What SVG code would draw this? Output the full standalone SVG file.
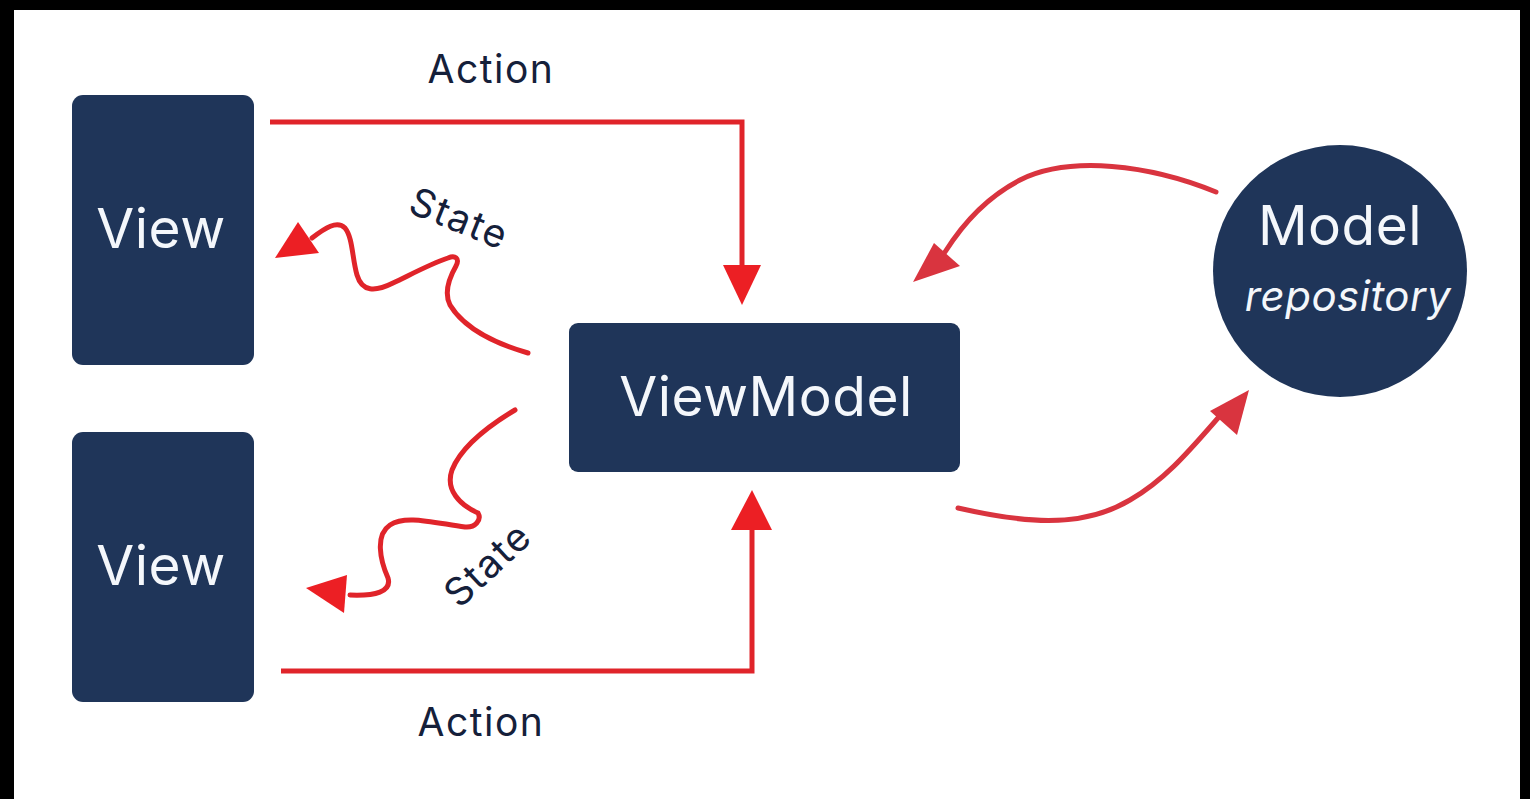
<svg xmlns="http://www.w3.org/2000/svg" width="1530" height="799" viewBox="0 0 1530 799">
<style>
.box{fill:#1f3559;}
.nt{fill:#f4f7fb;font-family:Inter,"Liberation Sans",sans-serif;font-size:55px;text-anchor:middle;letter-spacing:0.5px;}
.lbl{fill:#15203a;font-family:Inter,"Liberation Sans",sans-serif;font-size:39px;text-anchor:middle;letter-spacing:1.5px;}
.wire{fill:none;stroke:#e0242a;stroke-width:5;stroke-linejoin:miter;}
.arc{fill:none;stroke:#d9343f;stroke-width:5;stroke-linecap:round;}
.head{fill:#ec1f24;}
.ahead{fill:#d9343f;}
</style>
<rect x="0" y="0" width="1530" height="799" fill="#ffffff"/>
<g id="frame">
<rect x="0" y="0" width="1530" height="10" fill="#000"/>
<rect x="0" y="0" width="14" height="799" fill="#000"/>
<rect x="1520" y="0" width="10" height="799" fill="#000"/>
</g>
<g id="view1">
<rect class="box" x="72" y="95" width="182" height="270" rx="11"/>
<text class="nt" x="161" y="248">View</text>
</g>
<g id="view2">
<rect class="box" x="72" y="432" width="182" height="270" rx="11"/>
<text class="nt" x="161" y="585">View</text>
</g>
<g id="viewmodel">
<rect class="box" x="569" y="323" width="391" height="149" rx="9"/>
<text class="nt" x="766" y="416">ViewModel</text>
</g>
<g id="model">
<ellipse class="box" cx="1340" cy="271" rx="127" ry="126"/>
<text class="nt" x="1340" y="245">Model</text>
<text class="nt" x="1348" y="311" style="font-size:42px;font-style:italic">repository</text>
</g>
<g id="connectors">
<polyline class="wire" points="270,122 742,122 742,270"/>
<polygon class="head" points="723,265 761,265 742,305"/>
<polyline class="wire" points="281,671 752,671 752,528"/>
<polygon class="head" points="731,530 772,530 752,490"/>
<path class="wire" style="stroke-linecap:round" d="M528,353 C500,345 465,330 450,305 C444,293 448,280 456,266 C460,258 455,255 448,258 C430,264 410,275 393,283 C375,292 362,292 357,275 C352,258 353,238 345,228 C337,220 325,228 312,238"/>
<polygon class="head" points="275,258 298,222 319,253"/>
<path class="wire" style="stroke-linecap:round" d="M515,410 C490,425 462,445 452,470 C445,490 460,505 478,513 C482,520 475,528 465,527 C430,522 405,515 390,525 C375,535 380,560 388,578 C392,592 375,596 350,595"/>
<polygon class="head" points="306,588 347,575 344,613"/>
<path class="arc" d="M1216,192 C1150,165 1070,155 1020,180 C985,198 962,225 945,252"/>
<polygon class="ahead" points="913,282 934,243 960,266"/>
<path class="arc" d="M958,508 C1020,522 1080,530 1130,500 C1165,480 1190,450 1218,418"/>
<polygon class="ahead" points="1249,390 1210,411 1237,435"/>
<text class="lbl" x="491" y="83">Action</text>
<text class="lbl" x="481" y="736">Action</text>
<text class="lbl" x="459" y="232" transform="rotate(22 459 219)">State</text>
<text class="lbl" x="488" y="578" transform="rotate(-43 488 565)">State</text>
</g>
</svg>
